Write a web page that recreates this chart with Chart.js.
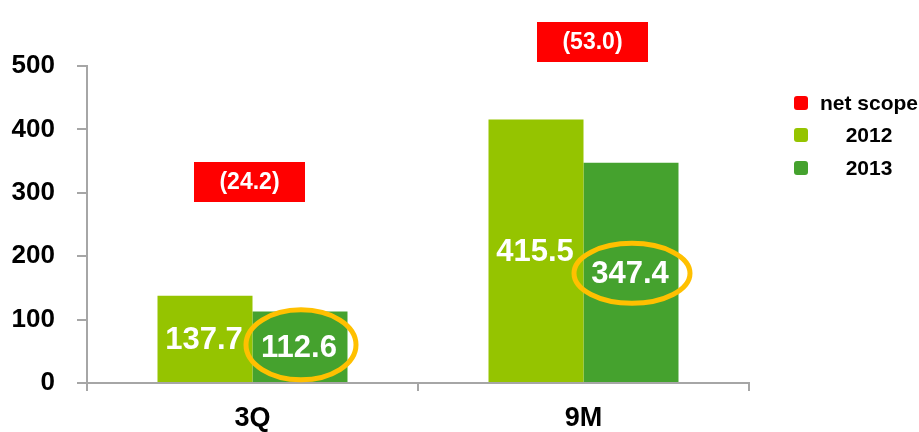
<!DOCTYPE html>
<html>
<head>
<meta charset="utf-8">
<script src="https://cdn.jsdelivr.net/npm/chart.js@4/dist/chart.umd.min.js"></script>
<style>
  html, body { margin: 0; padding: 0; background: #ffffff; }
  #wrap { width: 919px; height: 432px; position: relative; }
</style>
</head>
<body>
<div id="wrap"><canvas id="c" width="919" height="432"></canvas></div>
<script>
// Revenue by period, 2012 vs 2013, with net scope effect
const categories = ['3Q', '9M'];
const values2012 = [137.7, 415.5];
const values2013 = [112.6, 347.4];
const netScope = [-24.2, -53.0];
const yTicks = [0, 100, 200, 300, 400, 500];

const COLOR_2012 = '#95C400';
const COLOR_2013 = '#45A22E';
const COLOR_NET = '#FF0000';
const COLOR_RING = '#FFC000';
const FONT = '"Liberation Sans", Arial, sans-serif';

function fmt(v) { return v.toFixed(1); }
function fmtNeg(v) { return v < 0 ? '(' + Math.abs(v).toFixed(1) + ')' : v.toFixed(1); }

// Annotation layer: net-scope boxes, highlight rings, value labels, legend
const annotate = {
  id: 'annotate',
  afterDatasetsDraw(chart, args, opts) {
    const ctx = chart.ctx;
    const x = chart.scales.x;
    const y = chart.scales.y;
    ctx.save();

    // net scope boxes above each category
    netScope.forEach((v, i) => {
      const cx = x.getPixelForValue(i) + opts.netDx[i];
      const cy = y.getPixelForValue(opts.netAnchor[i]);
      const w = 111, h = 40;
      ctx.fillStyle = COLOR_NET;
      ctx.fillRect(Math.round(cx - w / 2), Math.round(cy - h / 2), w, h);
      ctx.fillStyle = '#ffffff';
      ctx.font = 'bold 23px ' + FONT;
      ctx.textAlign = 'center';
      ctx.textBaseline = 'middle';
      ctx.fillText(fmtNeg(v), cx, cy + 1);
    });

    // highlight rings around the 2013 values
    const meta13 = chart.getDatasetMeta(1);
    meta13.data.forEach((bar, i) => {
      const cx = bar.x + 1;
      const cy = (bar.y + bar.base) / 2 + opts.ringDy[i];
      ctx.beginPath();
      ctx.ellipse(cx, cy, opts.ringRx[i], opts.ringRy[i], 0, 0, Math.PI * 2);
      ctx.lineWidth = 5;
      ctx.strokeStyle = COLOR_RING;
      ctx.stroke();
    });

    // value labels centred in each bar
    ctx.fillStyle = '#ffffff';
    ctx.font = 'bold 31px ' + FONT;
    ctx.textAlign = 'center';
    ctx.textBaseline = 'middle';
    [0, 1].forEach(d => {
      const meta = chart.getDatasetMeta(d);
      const vals = chart.data.datasets[d].data;
      meta.data.forEach((bar, i) => {
        const cy = (bar.y + bar.base) / 2 + 2;
        ctx.fillText(fmt(vals[i]), bar.x - 1, cy);
      });
    });

    // legend
    const items = [
      { label: 'net scope', color: COLOR_NET },
      { label: chart.data.datasets[0].label, color: chart.data.datasets[0].backgroundColor },
      { label: chart.data.datasets[1].label, color: chart.data.datasets[1].backgroundColor }
    ];
    const rows = [103, 135, 168];
    ctx.font = 'bold 21px ' + FONT;
    ctx.textBaseline = 'middle';
    ctx.textAlign = 'center';
    items.forEach((it, i) => {
      const ry = rows[i];
      ctx.fillStyle = it.color;
      ctx.beginPath();
      ctx.roundRect(794, ry - 7, 14, 14, 3);
      ctx.fill();
      ctx.fillStyle = '#000000';
      ctx.fillText(it.label, 869, ry + 1);
    });

    ctx.restore();
  }
};

new Chart(document.getElementById('c'), {
  type: 'bar',
  data: {
    labels: categories,
    datasets: [
      { label: '2012', data: values2012, backgroundColor: COLOR_2012 },
      { label: '2013', data: values2013, backgroundColor: COLOR_2013 }
    ]
  },
  plugins: [annotate],
  options: {
    responsive: false,
    animation: false,
    events: [],
    layout: { padding: { top: 66, right: 170, bottom: 0, left: 0 } },
    datasets: {
      bar: { categoryPercentage: 0.574, barPercentage: 1.0 }
    },
    plugins: {
      legend: { display: false },
      tooltip: { enabled: false },
      annotate: {
        netDx: [-3, 9],
        netAnchor: [317, 538],
        ringDy: [-2, 1],
        ringRx: [55, 58],
        ringRy: [35, 30]
      }
    },
    scales: {
      x: {
        afterFit(s) { s.height = 49; },
        grid: { drawOnChartArea: false, drawTicks: true, tickLength: 8, color: '#A6A6A6', lineWidth: 2, offset: true },
        border: { color: '#A6A6A6', width: 2 },
        ticks: { color: '#000000', padding: 11, font: { family: FONT, size: 27, weight: 'bold' } }
      },
      y: {
        min: 0,
        max: 500,
        afterFit(s) { s.width = 87; },
        afterBuildTicks(s) { s.ticks = yTicks.map(v => ({ value: v })); },
        grid: { drawOnChartArea: false, drawTicks: true, tickLength: 10, color: '#A6A6A6', lineWidth: 2 },
        border: { color: '#A6A6A6', width: 2 },
        ticks: { color: '#000000', padding: 22, font: { family: FONT, size: 26, weight: 'bold' } }
      }
    }
  }
});
</script>
</body>
</html>
